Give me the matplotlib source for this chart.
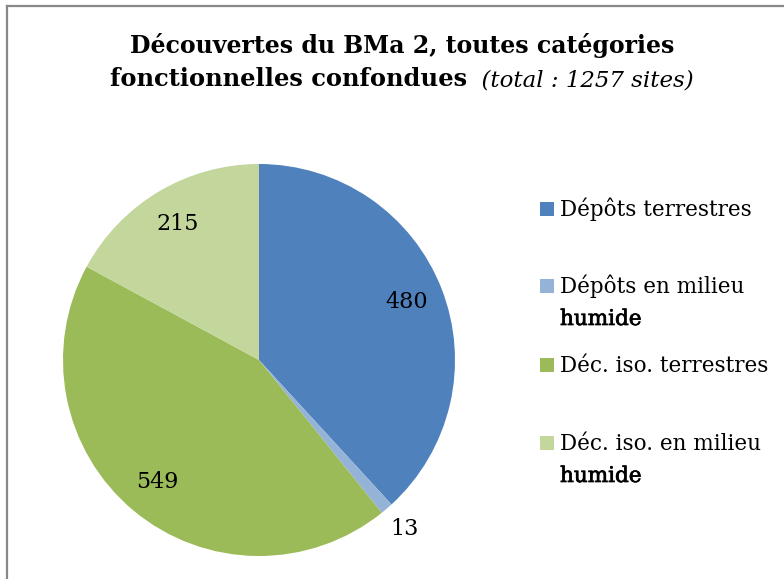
import matplotlib
matplotlib.use("Agg")
import matplotlib.pyplot as plt
from matplotlib.patches import Rectangle
from matplotlib.lines import Line2D
import matplotlib.patheffects as pe
import numpy as np

# Data
categories = ["Dépôts terrestres", "Dépôts en milieu\nhumide",
              "Déc. iso. terrestres", "Déc. iso. en milieu\nhumide"]
counts = [480, 13, 549, 215]
colors = ["#4F81BD", "#95B3D7", "#9BBB59", "#C3D69B"]
title_line1 = "Découvertes du BMa 2, toutes catégories"
title_bold2 = "fonctionnelles confondues"
title_ital2 = "(total : 1257 sites)"

W, H = 784, 579
fig = plt.figure(figsize=(W / 100, H / 100), dpi=100)
fig.patch.set_facecolor("white")

serif = ["DejaVu Serif"]

def px(x, y):
    """Pixel position (from top-left) to figure fraction."""
    return x / W, 1 - y / H

# Chart-area border (top and left edges visible)
fig.add_artist(Line2D([6.5 / W, 1.01], [1 - 6 / H, 1 - 6 / H],
                      transform=fig.transFigure, color="#888888", lw=1.6))
fig.add_artist(Line2D([6.5 / W, 6.5 / W], [-0.01, 1 - 6 / H],
                      transform=fig.transFigure, color="#888888", lw=1.6))

# Pie
cx, cy, r = 259, 360, 196
ax = fig.add_axes([(cx - r) / W, (H - cy - r) / H, 2 * r / W, 2 * r / H])
wedges, _ = ax.pie(counts, colors=colors, startangle=90, counterclock=False,
                   radius=1.0, wedgeprops=dict(linewidth=0))
ax.set_xlim(-1, 1)
ax.set_ylim(-1, 1)
ax.set_aspect("equal")
ax.axis("off")

# Value labels at wedge mid-angles
for w, v in zip(wedges, counts):
    mid = np.deg2rad((w.theta1 + w.theta2) / 2)
    d = 0.81 if v / sum(counts) > 0.03 else 1.14
    ax.text(d * np.cos(mid), d * np.sin(mid), str(v), ha="center", va="center",
            fontsize=16, family=serif, color="black")

# Title
fig.text(*px(402, 53), title_line1, ha="center", va="baseline",
         fontsize=17, fontweight="bold", family=serif)
t_b = fig.text(0, 0, title_bold2, ha="left", va="baseline",
               fontsize=17.4, fontweight="bold", family=serif)
t_i = fig.text(0, 0, "  " + title_ital2, ha="left", va="baseline",
               fontsize=16.5, fontstyle="italic", family=serif)
renderer = fig.canvas.get_renderer()
wb = t_b.get_window_extent(renderer).width
wi = t_i.get_window_extent(renderer).width
x0 = 402 - (wb + wi) / 2
t_b.set_position(px(x0, 86))
t_i.set_position(px(x0 + wb, 86))

# Legend (wrapped continuation lines drawn slightly heavier)
sq = 14
first_baselines = [216, 293, 372, 450]
line_gap = 32
heavy = [pe.withStroke(linewidth=0.5, foreground="black")]
for lab, col, yb in zip(categories, colors, first_baselines):
    fig.add_artist(Rectangle((540 / W, 1 - yb / H), sq / W, sq / H,
                             transform=fig.transFigure, facecolor=col,
                             edgecolor="none"))
    for i, line in enumerate(lab.split("\n")):
        fig.text(*px(560, yb + i * line_gap), line, ha="left", va="baseline",
                 fontsize=15.5, family=serif,
                 path_effects=heavy if i > 0 else None)

fig.savefig("out.png", dpi=100)
